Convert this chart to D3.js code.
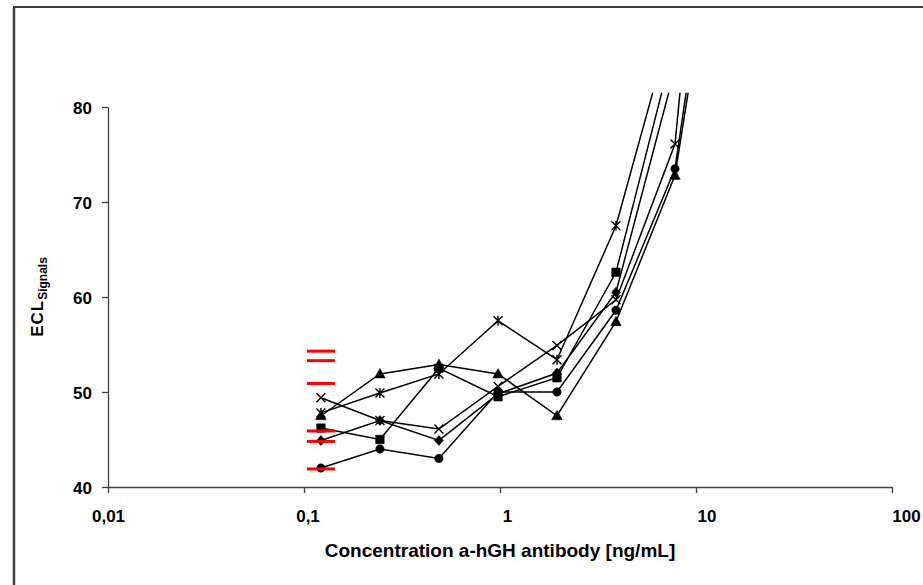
<!DOCTYPE html>
<html>
<head>
<meta charset="utf-8">
<script src="https://cdn.jsdelivr.net/npm/d3@7"></script>
<style>
  body { margin: 0; background: #fff; }
  svg { display: block; font-family: "Liberation Sans", Arial, sans-serif; }
  .axis text { font-size: 17px; font-weight: bold; fill: #000; }
  .axis path, .axis line { stroke: #404040; stroke-width: 1.3; }
</style>
</head>
<body>
<div id="app"></div>
<script>
const width = 923,
  height = 585;

// concentrations (ng/mL), two-fold dilution series
const conc = [0.122, 0.244, 0.488, 0.977, 1.953, 3.906, 7.813, 15.625];

// ECL signals per sample
const diamond = [44.9, 47.0, 44.9, 49.8, 52.0, 60.5, 84, 125];
const square = [46.2, 45.0, 52.5, 49.5, 51.5, 62.6, 87, 130];
const triangle = [47.5, 51.9, 52.9, 51.9, 47.5, 57.4, 72.8, 112];
const cross = [49.4, 47.0, 46.1, 50.6, 54.9, 59.7, 76.1, 140];
const star = [47.8, 49.9, 51.9, 57.5, 53.4, 67.5, 90, 150];
const circle = [42.0, 44.0, 43.0, 50.0, 50.0, 58.6, 73.5, 116];

// red cut-off dashes at lowest concentration
const cutConc = 0.122;
const cutoffs = [54.3, 53.3, 50.9, 45.9, 44.8, 41.9];

const xTicks = [0.01, 0.1, 1, 10, 100];
const yTicks = [40, 50, 60, 70, 80];

const series = [
  { name: "diamond", values: diamond },
  { name: "square", values: square },
  { name: "triangle", values: triangle },
  { name: "cross", values: cross },
  { name: "star", values: star },
  { name: "circle", values: circle }
];

const x = d3.scaleLog().domain([0.01, 100]).range([108, 892]);
const y = d3.scaleLinear().domain([40, 80]).range([487, 107]);

const svg = d3
  .select("#app")
  .append("svg")
  .attr("width", width)
  .attr("height", height);

// outer frame
svg.append("path")
  .attr("d", `M14,${height} V7`)
  .attr("stroke", "#404040")
  .attr("stroke-width", 2.5)
  .attr("fill", "none");
svg.append("path")
  .attr("d", `M13,7 H${width}`)
  .attr("stroke", "#000")
  .attr("stroke-width", 1.5)
  .attr("fill", "none");

svg.append("clipPath")
  .attr("id", "plot")
  .append("rect")
  .attr("x", x.range()[0])
  .attr("y", y(81.5))
  .attr("width", x.range()[1] - x.range()[0])
  .attr("height", y(40) - y(81.5));

//axes
svg.append("g")
  .attr("class", "axis")
  .attr("transform", `translate(0,${y(40)})`)
  .call(
    d3.axisBottom(x)
      .tickValues(xTicks)
      .tickSize(6)
      .tickSizeOuter(0)
      .tickPadding(17)
      .tickFormat((d) => String(d).replace(".", ","))
  )
  .selectAll("text")
  // the labels drift a little right of their ticks in the original
  .attr("dx", (d, i) => i * 3.5);

svg.append("g")
  .attr("class", "axis")
  .attr("transform", `translate(${x(0.01)},0)`)
  .call(
    d3.axisLeft(y)
      .tickValues(yTicks)
      .tickSize(6)
      .tickSizeOuter(0)
      .tickPadding(10)
  )
  .selectAll("text")
  .attr("dy", "0.36em");

// axis titles
svg.append("text")
  .attr("x", 500)
  .attr("y", 557)
  .attr("text-anchor", "middle")
  .attr("font-size", 19)
  .attr("font-weight", "bold")
  .text("Concentration a-hGH antibody [ng/mL]");

const yTitle = svg.append("text")
  .attr("transform", "translate(43,297) rotate(-90)")
  .attr("text-anchor", "middle")
  .attr("font-weight", "bold");
yTitle.append("tspan").attr("font-size", 17).attr("letter-spacing", 1).text("ECL");
yTitle.append("tspan").attr("font-size", 12).attr("dy", 4).text("Signals");

// marker shapes
function markerPath(name) {
  const p = d3.path();
  if (name === "diamond") {
    p.moveTo(0, -5); p.lineTo(4.5, 0); p.lineTo(0, 5); p.lineTo(-4.5, 0); p.closePath();
  } else if (name === "square") {
    p.rect(-4.3, -4.3, 8.6, 8.6);
  } else if (name === "triangle") {
    p.moveTo(0, -5.5); p.lineTo(5.3, 4); p.lineTo(-5.3, 4); p.closePath();
  } else if (name === "circle") {
    p.arc(0, 0, 4.2, 0, 2 * Math.PI);
  } else if (name === "cross") {
    p.moveTo(-4.5, -4.5); p.lineTo(4.5, 4.5);
    p.moveTo(-4.5, 4.5); p.lineTo(4.5, -4.5);
  } else if (name === "star") {
    p.moveTo(-4.5, -4.5); p.lineTo(4.5, 4.5);
    p.moveTo(-4.5, 4.5); p.lineTo(4.5, -4.5);
    p.moveTo(0, -5); p.lineTo(0, 5);
  }
  return p.toString();
}

const line = d3.line()
  .x((d) => x(d[0]))
  .y((d) => y(d[1]));

const plot = svg.append("g").attr("clip-path", "url(#plot)");

const groups = plot
  .selectAll("g.series")
  .data(series)
  .join("g")
  .attr("class", "series");

groups.append("path")
  .attr("fill", "none")
  .attr("stroke", "#000")
  .attr("stroke-width", 1.5)
  .attr("d", (s) => line(conc.map((c, i) => [c, s.values[i]])));

groups.each(function (s) {
  const stroked = s.name === "cross" || s.name === "star";
  d3.select(this)
    .selectAll("path.marker")
    .data(conc.map((c, i) => [c, s.values[i]]))
    .join("path")
    .attr("class", "marker")
    .attr("transform", (d) => `translate(${x(d[0])},${y(d[1])})`)
    .attr("d", markerPath(s.name))
    .attr("fill", stroked ? "none" : "#000")
    .attr("stroke", "#000")
    .attr("stroke-width", stroked ? 1.4 : 0.5);
});

// red cut-off dashes
svg.append("g")
  .selectAll("line")
  .data(cutoffs)
  .join("line")
  .attr("x1", x(cutConc) - 14)
  .attr("x2", x(cutConc) + 14)
  .attr("y1", (d) => y(d))
  .attr("y2", (d) => y(d))
  .attr("stroke", "#ff0000")
  .attr("stroke-width", 3);
</script>
</body>
</html>
